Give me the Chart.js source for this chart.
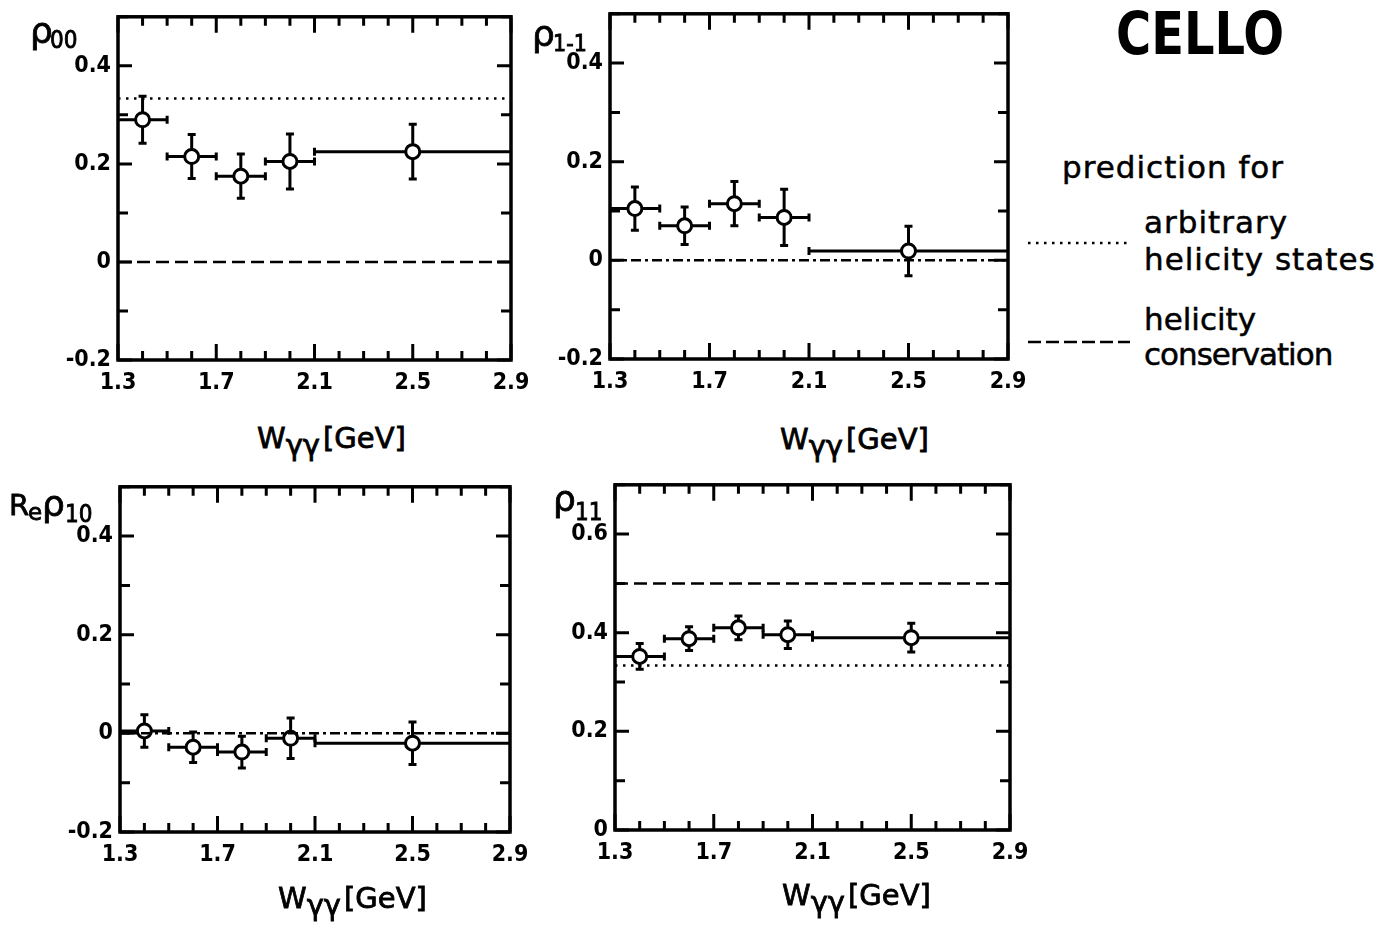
<!DOCTYPE html>
<html>
<head>
<meta charset="utf-8">
<title>CELLO spin density matrix elements</title>
<script src="https://cdn.jsdelivr.net/npm/chart.js@4.4.0/dist/chart.umd.min.js"></script>
<style>
  body { margin: 0; background: #fff; width: 1397px; height: 930px; position: relative; overflow: hidden; color: #000; }
  .panel { position: absolute; }
  .t { position: absolute; line-height: 1; white-space: nowrap; font-family: "DejaVu Sans", sans-serif; }
  .c { font-family: "DejaVu Sans Condensed", "DejaVu Sans", sans-serif; }
  .sym { -webkit-text-stroke: 0.8px #000; }
  .ax { font-size: 29px; -webkit-text-stroke: 0.8px #000; }
  .ax .g { font-size: 29px; position: relative; top: 7px; margin-right: 3px; }
  .leg { font-size: 31px; letter-spacing: 1px; -webkit-text-stroke: 0.5px #000; }
</style>
</head>
<body>

<div class="panel" id="p1"><canvas id="c1"></canvas></div>
<div class="panel" id="p2"><canvas id="c2"></canvas></div>
<div class="panel" id="p3"><canvas id="c3"></canvas></div>
<div class="panel" id="p4"><canvas id="c4"></canvas></div>

<!-- axis titles -->
<div class="t sym" style="left:30px;top:13px;font-size:36px">ρ</div>
<div class="t c sym" style="left:50px;top:28px;font-size:24px">00</div>
<div class="t sym" style="left:532px;top:16px;font-size:36px">ρ</div>
<div class="t c sym" style="left:553px;top:32px;font-size:23px">1-1</div>
<div class="t sym" style="left:9px;top:491px;font-size:29px">R</div>
<div class="t sym" style="left:28px;top:501px;font-size:23px">e</div>
<div class="t sym" style="left:42px;top:486px;font-size:36px">ρ</div>
<div class="t c sym" style="left:65px;top:502px;font-size:24px">10</div>
<div class="t sym" style="left:553px;top:481px;font-size:36px">ρ</div>
<div class="t c sym" style="left:575px;top:500px;font-size:24px">11</div>

<div class="t ax" style="left:257px;top:424px">W<span class="g">γγ</span>[GeV]</div>
<div class="t ax" style="left:780px;top:425px">W<span class="g">γγ</span>[GeV]</div>
<div class="t ax" style="left:278px;top:884px">W<span class="g">γγ</span>[GeV]</div>
<div class="t ax" style="left:782px;top:881px">W<span class="g">γγ</span>[GeV]</div>

<!-- key -->
<div class="t c" style="left:1116px;top:5px;font-size:58px;font-weight:bold;transform:scaleX(0.92);transform-origin:left top">CELLO</div>
<div class="t leg" style="left:1062px;top:152px">prediction for</div>
<div class="t leg" style="left:1144px;top:207px">arbitrary</div>
<div class="t leg" style="left:1144px;top:244px">helicity states</div>
<div class="t leg" style="left:1144px;top:304px;letter-spacing:0">helicity</div>
<div class="t leg" style="left:1144px;top:339px;letter-spacing:-1px">conservation</div>
<svg style="position:absolute;left:0;top:0" width="1397" height="930">
  <line x1="1028" y1="243" x2="1127" y2="243" stroke="#000" stroke-width="2.5" stroke-dasharray="2.5 5.5"/>
  <line x1="1028" y1="342" x2="1130" y2="342" stroke="#000" stroke-width="2.5" stroke-dasharray="13 5"/>
</svg>

<script>
// W(γγ) bins
const wCenter = [1.4, 1.6, 1.8, 2.0, 2.5];
const wLow = [1.3, 1.5, 1.7, 1.9, 2.1];
const wHigh = [1.5, 1.7, 1.9, 2.1, 2.9];
const xTickLabels = [1.3, 1.7, 2.1, 2.5, 2.9];

// measured density matrix elements and errors
const rho00 = [0.29, 0.215, 0.175, 0.205, 0.225];
const rho00Err = [0.048, 0.045, 0.045, 0.056, 0.056];
const rho1m1 = [0.105, 0.07, 0.115, 0.087, 0.019];
const rho1m1Err = [0.044, 0.038, 0.045, 0.057, 0.05];
const reRho10 = [0.005, -0.028, -0.038, -0.01, -0.02];
const reRho10Err = [0.033, 0.031, 0.032, 0.041, 0.043];
const rho11 = [0.352, 0.388, 0.41, 0.396, 0.39];
const rho11Err = [0.026, 0.024, 0.024, 0.028, 0.029];

// y tick labels per panel
const yTicksA = [-0.2, 0, 0.2, 0.4];
const yTicksB = [0, 0.2, 0.4, 0.6];

// predictions: arbitrary helicity states / helicity conservation
const arbitrary00 = 1 / 3, conserv00 = 0;
const conserv1m1 = 0;
const conserv10 = 0;
const arbitrary11 = 1 / 3, conserv11 = 0.5;

const FONT = '"DejaVu Sans Condensed", "DejaVu Sans", sans-serif';
const PAD_L = 120, PAD_T = 20, PAD_R = 30, PAD_B = 50;

const DOTTED = [2.5, 5.5];
const DASHED = [13, 6];
const DASHDOT = [10, 4, 3, 4];

const framePlugin = {
  id: 'frame',
  beforeDatasetDraw(chart, args) {
    const ds = chart.data.datasets[args.index];
    if (!ds.yErr) return;
    const { ctx, scales: { x, y } } = chart;
    ctx.save();
    ctx.strokeStyle = '#000';
    ctx.lineWidth = 3;
    ctx.lineCap = 'butt';
    ds.data.forEach((p, i) => {
      const px = x.getPixelForValue(p.x), py = y.getPixelForValue(p.y);
      const x0 = x.getPixelForValue(ds.xLo[i]), x1 = x.getPixelForValue(ds.xHi[i]);
      const y0 = y.getPixelForValue(p.y - ds.yErr[i]), y1 = y.getPixelForValue(p.y + ds.yErr[i]);
      ctx.beginPath();
      ctx.moveTo(x0, py); ctx.lineTo(x1, py);
      ctx.moveTo(px, y0); ctx.lineTo(px, y1);
      ctx.moveTo(px - 4, y0); ctx.lineTo(px + 4, y0);
      ctx.moveTo(px - 4, y1); ctx.lineTo(px + 4, y1);
      if (ds.xLo[i] > x.min) { ctx.moveTo(x0, py - 4); ctx.lineTo(x0, py + 4); }
      if (ds.xHi[i] < x.max) { ctx.moveTo(x1, py - 4); ctx.lineTo(x1, py + 4); }
      ctx.stroke();
    });
    ctx.restore();
  },
  afterDraw(chart) {
    const { ctx, chartArea: a, scales: { x, y } } = chart;
    ctx.save();
    ctx.strokeStyle = '#000';
    ctx.lineWidth = 3;
    ctx.beginPath();
    for (let i = Math.round(x.min * 10); i <= Math.round(x.max * 10); i++) {
      const px = x.getPixelForValue(i / 10);
      const major = xTickLabels.some(v => Math.abs(v - i / 10) < 1e-6);
      const len = major ? 16 : 9;
      ctx.moveTo(px, a.bottom); ctx.lineTo(px, a.bottom - len);
      ctx.moveTo(px, a.top); ctx.lineTo(px, a.top + len);
    }
    for (let i = Math.round(y.min * 10); i <= Math.round(y.max * 10); i++) {
      const py = y.getPixelForValue(i / 10);
      const len = i % 2 === 0 ? 14 : 10;
      ctx.moveTo(a.left, py); ctx.lineTo(a.left + len, py);
      ctx.moveTo(a.right, py); ctx.lineTo(a.right - len, py);
    }
    ctx.stroke();
    ctx.lineWidth = 3.5;
    ctx.strokeRect(a.left, a.top, a.right - a.left, a.bottom - a.top);
    ctx.restore();
  }
};

function refLine(value, dash) {
  return {
    type: 'line',
    data: [{ x: 1.3, y: value }, { x: 2.9, y: value }],
    showLine: true,
    borderColor: '#000',
    borderWidth: 2.5,
    borderDash: dash,
    pointRadius: 0,
    fill: false
  };
}

function makePanel(n, frame, yMin, yMax, yTicks, values, errs, lines) {
  const [L, T, R, B] = frame;
  const w = R - L + PAD_L + PAD_R, h = B - T + PAD_T + PAD_B;
  const wrap = document.getElementById('p' + n);
  wrap.style.left = (L - PAD_L) + 'px';
  wrap.style.top = (T - PAD_T) + 'px';
  const canvas = document.getElementById('c' + n);
  canvas.width = w;
  canvas.height = h;

  const datasets = lines.slice();
  datasets.push({
    type: 'scatter',
    data: wCenter.map((v, i) => ({ x: v, y: values[i] })),
    xLo: wLow,
    xHi: wHigh,
    yErr: errs,
    pointRadius: 7,
    pointBorderWidth: 3,
    pointBackgroundColor: '#fff',
    pointBorderColor: '#000'
  });

  new Chart(canvas, {
    type: 'scatter',
    data: { datasets },
    plugins: [framePlugin],
    options: {
      responsive: false,
      animation: false,
      layout: { padding: { left: 0, top: PAD_T, right: PAD_R, bottom: 0 } },
      plugins: { legend: { display: false }, tooltip: { enabled: false } },
      scales: {
        x: {
          type: 'linear',
          min: 1.3,
          max: 2.9,
          afterBuildTicks: s => { s.ticks = xTickLabels.map(v => ({ value: v })); },
          afterFit: s => { s.height = PAD_B; },
          grid: { display: false, drawTicks: false },
          border: { display: false },
          ticks: {
            autoSkip: false, maxRotation: 0, padding: 9, color: '#000',
            font: { family: FONT, size: 23, weight: 'bold' },
            callback: v => v.toFixed(1)
          }
        },
        y: {
          type: 'linear',
          min: yMin,
          max: yMax,
          afterBuildTicks: s => { s.ticks = yTicks.map(v => ({ value: v })); },
          afterFit: s => { s.width = PAD_L; },
          grid: { display: false, drawTicks: false },
          border: { display: false },
          ticks: {
            autoSkip: false, padding: 7, color: '#000',
            font: { family: FONT, size: 23, weight: 'bold' },
            callback: v => (v === 0 ? '0' : v.toFixed(1))
          }
        }
      }
    }
  });
}

makePanel(1, [118, 16, 511, 360], -0.2, 0.5, yTicksA, rho00, rho00Err,
  [refLine(arbitrary00, DOTTED), refLine(conserv00, DASHED)]);
makePanel(2, [610, 13, 1008, 359], -0.2, 0.5, yTicksA, rho1m1, rho1m1Err,
  [refLine(conserv1m1, DASHDOT)]);
makePanel(3, [120, 486, 510, 832], -0.2, 0.5, yTicksA, reRho10, reRho10Err,
  [refLine(conserv10, DASHDOT)]);
makePanel(4, [615, 484, 1010, 830], 0, 0.7, yTicksB, rho11, rho11Err,
  [refLine(arbitrary11, DOTTED), refLine(conserv11, DASHED)]);
</script>
</body>
</html>
